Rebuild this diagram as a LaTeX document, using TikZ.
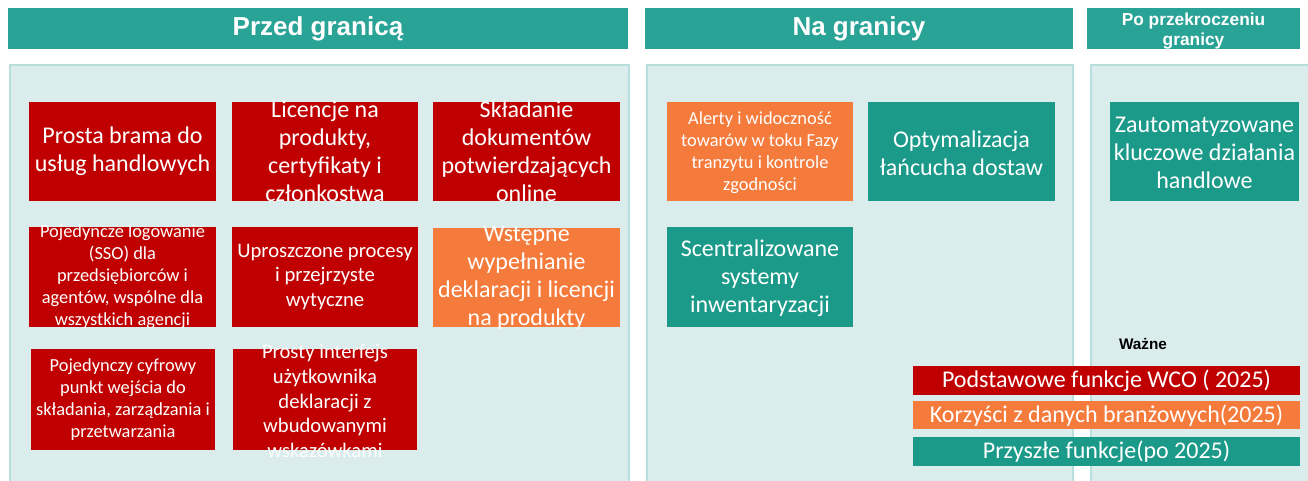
\documentclass[tikz,border=0pt]{standalone}
\usepackage{fontspec}
\setmainfont{Carlito}
\newfontfamily\headfont{Liberation Sans}

\definecolor{headteal}{HTML}{29A396}
\definecolor{panelfill}{HTML}{DAEDEC}
\definecolor{panelline}{HTML}{B9DFDC}
\definecolor{corered}{HTML}{C00000}
\definecolor{dataorange}{HTML}{F47B3B}
\definecolor{futureteal}{HTML}{1B9A89}

\tikzset{
  head/.style={text=white, align=center, inner sep=0pt, font=\headfont\bfseries\fontsize{19.5}{23}\selectfont},
  boxtxt/.style={text=white, align=center, inner sep=0pt, font=\fontsize{18}{21}\selectfont},
  midtxt/.style={boxtxt, font=\fontsize{15.5}{18.5}\selectfont},
  smalltxt/.style={boxtxt, font=\fontsize{13.8}{16.5}\selectfont},
  panel/.style={fill=panelfill, draw=panelline, line width=1.2pt}
}

\begin{document}
\begin{tikzpicture}[x=0.75pt,y=-0.75pt]
\useasboundingbox (0,0) rectangle (1308,480);

% headers
\fill[headteal] (8,8) rectangle (628,49);
\node[head] (przed) at (318,28.5) {Przed granicą};
\fill[headteal] (645,8) rectangle (1073,49);
\node[head] (na) at (859,28.5) {Na granicy};
\fill[headteal] (1087,8) rectangle (1300,49);
\node[head, font=\headfont\bfseries\fontsize{13}{15}\selectfont] (po) at (1193.5,31) {Po przekroczeniu\\granicy};

% panels
\filldraw[panel] (10,481) -- (10,65) -- (629,65) -- (629,481);
\filldraw[panel] (647,481) -- (647,65) -- (1073,65) -- (1073,481);
\fill[panelfill] (1091,65) rectangle (1309,481);
\draw[panelline, line width=1.2pt] (1091,481) -- (1091,65) -- (1309,65);

% przed granica
\fill[corered] (29,102) rectangle (216,201);
\node[boxtxt] (brama) at (122.5,151.5) {Prosta brama do\\usług handlowych};
\fill[corered] (232,102) rectangle (418,201);
\node[boxtxt] (licencje) at (325,151.5) {Licencje na\\produkty,\\certyfikaty i\\członkostwa};
\fill[corered] (433,102) rectangle (620,201);
\node[boxtxt] (skladanie) at (526.5,151.5) {Składanie\\dokumentów\\potwierdzających\\online};

\fill[corered] (29,227) rectangle (216,327);
\node[smalltxt] (sso) at (122.5,277) {Pojedyncze logowanie\\(SSO) dla\\przedsiębiorców i\\agentów, wspólne dla\\wszystkich agencji};
\fill[corered] (232,227) rectangle (418,327);
\node[midtxt] (procesy) at (325,277) {Uproszczone procesy\\i przejrzyste\\wytyczne};
\fill[dataorange] (433,228) rectangle (620,327);
\node[boxtxt] (wstepne) at (526.5,278) {Wstępne\\wypełnianie\\deklaracji i licencji\\na produkty};

\fill[corered] (31,349) rectangle (215,450);
\node[smalltxt] (punkt) at (123,400) {Pojedynczy cyfrowy\\punkt wejścia do\\składania, zarządzania i\\przetwarzania};
\fill[corered] (233,349) rectangle (417,450);
\node[midtxt] (interfejs) at (325,401) {Prosty interfejs\\użytkownika\\deklaracji z\\wbudowanymi\\wskazówkami};

% na granicy
\fill[dataorange] (667,102) rectangle (853,201);
\node[smalltxt] (alerty) at (760,153) {Alerty i widoczność\\towarów w toku Fazy\\tranzytu i kontrole\\zgodności};
\fill[futureteal] (868,102) rectangle (1055,201);
\node[boxtxt] (optym) at (961.5,153) {Optymalizacja\\łańcucha dostaw};
\fill[futureteal] (667,227) rectangle (853,327);
\node[boxtxt] (inwent) at (760,278) {Scentralizowane\\systemy\\inwentaryzacji};

% po przekroczeniu
\fill[futureteal] (1110,102) rectangle (1299,201);
\node[boxtxt] (zautom) at (1204.5,153) {Zautomatyzowane\\kluczowe działania\\handlowe};

% legenda
\node[inner sep=0pt, font=\headfont\bfseries\fontsize{11.5}{13}\selectfont] (wazne) at (1143,344) {Ważne};
\fill[corered] (913,366) rectangle (1300,395);
\node[boxtxt] (legcore) at (1106.5,381) {Podstawowe funkcje WCO ( 2025)};
\fill[dataorange] (913,401) rectangle (1300,429);
\node[boxtxt] (legdata) at (1106.5,415.5) {Korzyści z danych branżowych(2025)};
\fill[futureteal] (913,437) rectangle (1300,466);
\node[boxtxt] (legfuture) at (1106.5,452) {Przyszłe funkcje(po 2025)};

\end{tikzpicture}
\end{document}
